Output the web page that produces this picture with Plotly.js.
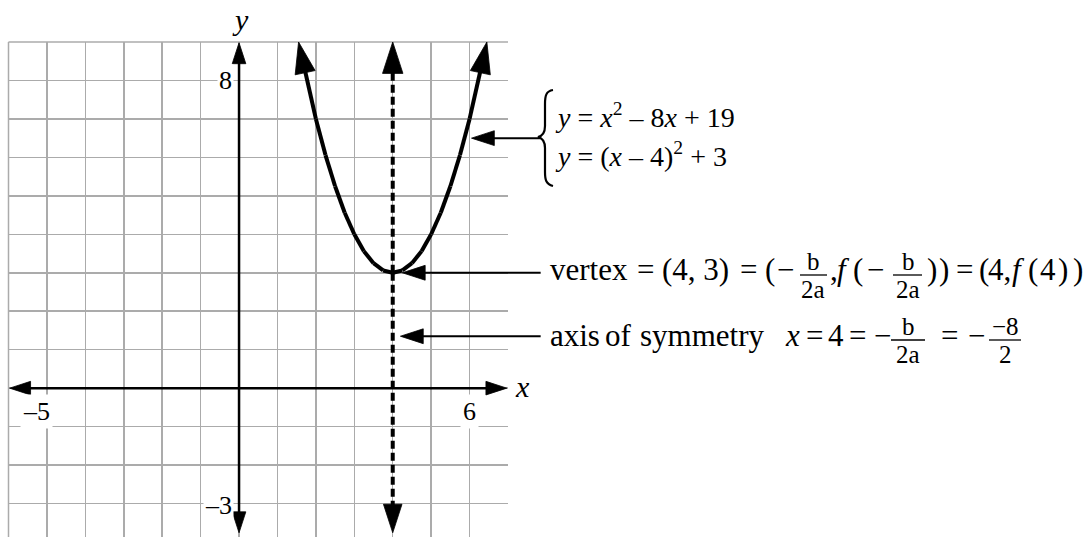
<!DOCTYPE html>
<html>
<head>
<meta charset="utf-8">
<script src="https://cdn.plot.ly/plotly-3.0.1.min.js"></script>
<style>
html,body{margin:0;padding:0;background:#fff;overflow:hidden}
#chart{width:1091px;height:537px}
</style>
</head>
<body>
<div id="chart"></div>
<script>
// ---------------- data ----------------
const parabolaX = [1.55, 1.75, 2.0, 2.25, 2.5, 2.75, 3.0, 3.25, 3.5, 3.75, 4.0,
                   4.25, 4.5, 4.75, 5.0, 5.25, 5.5, 5.75, 6.0, 6.25, 6.45];
const parabolaY = [9.0, 8.06, 7.0, 6.06, 5.25, 4.56, 4.0, 3.56, 3.25, 3.06, 3.0,
                   3.06, 3.25, 3.56, 4.0, 4.56, 5.25, 6.06, 7.0, 8.06, 9.0];
const vertexIndex = 10;                // point (4, 3)
const symmetryX = 4;
const symmetryYEnds = [9.0, -3.76];
const xAxisEnds = [-5.97, 6.97];
const yAxisEnds = [8.98, -3.76];
const xTickVals = [-5, 6];
const xTickText = ['–5', '6'];
const yTickVals = [8, -3];
const yTickText = ['8', '–3'];
const calloutTipX = [6.05, 4.25, 4.2];
const calloutTipY = [6.5, 3.0, 1.35];
const calloutTailX = 7.85;
const xRange = [-6, 7];
const yRange = [-3.87, 9];

// ---------------- geometry / style ----------------
const W = 1091, H = 537;
const PL = 8.5, PR = 508, PT = 42;
const FONT = 'Liberation Serif';
const GRID = '#ababab';
const BLACK = '#000000';
const k = (xRange[1] - xRange[0]) / (PR - PL);
const x2Range = [xRange[0] - PL * k, xRange[0] + (W - PL) * k];

function arrowTrace(xs, ys, width, headSize, extra) {
  const sizes = xs.map((_, i) => (i === xs.length - 1 ? headSize : 0));
  return Object.assign({
    type: 'scatter', mode: 'lines+markers', x: xs, y: ys,
    line: {color: BLACK, width: width},
    marker: {symbol: 'arrow', angleref: 'previous', size: sizes, color: BLACK,
             opacity: 1, line: {color: BLACK, width: 0.8}},
    opacity: 1, cliponaxis: false, hoverinfo: 'skip', showlegend: false
  }, extra || {});
}

const traces = [];
traces.push(arrowTrace([0, xAxisEnds[1]], [0, 0], 2.5, 22));
traces.push(arrowTrace([0, xAxisEnds[0]], [0, 0], 2.5, 22));
traces.push(arrowTrace([0, 0], [0, yAxisEnds[0]], 2.5, 22));
traces.push(arrowTrace([0, 0], [0, yAxisEnds[1]], 2.5, 22));
const vY = parabolaY[vertexIndex];
const dUp = arrowTrace([symmetryX, symmetryX], [vY, symmetryYEnds[0]], 4, 33);
const dDn = arrowTrace([symmetryX, symmetryX], [vY, symmetryYEnds[1]], 4, 30);
dUp.line.dash = '8px,4px';
dDn.line.dash = '8px,4px';
traces.push(dUp, dDn);
const leftX = parabolaX.slice(0, vertexIndex + 1).reverse();
const leftY = parabolaY.slice(0, vertexIndex + 1).reverse();
const rightX = parabolaX.slice(vertexIndex);
const rightY = parabolaY.slice(vertexIndex);
traces.push(arrowTrace(leftX, leftY, 4, 33), arrowTrace(rightX, rightY, 4, 33));
for (let i = 0; i < calloutTipX.length; i++) {
  traces.push(arrowTrace([calloutTailX, calloutTipX[i]], [calloutTipY[i], calloutTipY[i]], 2, 24,
    {xaxis: 'x2', yaxis: 'y2'}));
}

// ---------------- text ----------------
const ann = [];
function T(text, xpx, ypx, size, xanchor) {
  ann.push({xref: 'paper', yref: 'paper', x: xpx / W, y: 1 - ypx / H,
    xanchor: xanchor || 'left', yanchor: 'middle', text: text, showarrow: false,
    borderpad: 0, font: {family: FONT, size: size, color: BLACK}});
}
const shapes = [];
function hline(x0, x1, ypx, color, width) {
  shapes.push({type: 'line', xref: 'paper', yref: 'paper', x0: x0 / W, x1: x1 / W,
    y0: 1 - ypx / H, y1: 1 - ypx / H, line: {color: color, width: width}});
}
const FS = 25;
function frac(num, den, cx, x0, x1, barY) {
  T(num, cx, barY - 14, FS, 'center');
  T(den, cx, barY + 14.5, FS, 'center');
  hline(x0, x1, barY, BLACK, 1.3);
}
// grid frame edges (left and top)
hline(PL, PR, PT, GRID, 1.5);
shapes.push({type: 'line', xref: 'paper', yref: 'paper', x0: PL / W, x1: PL / W,
  y0: 0, y1: 1 - PT / H, line: {color: GRID, width: 1.5}, layer: 'below'});
shapes[0].layer = 'below';

const MS = 31;
const vRowY = 269;
[['vertex', 549], ['=', 636], ['(4, 3)', 661], ['=', 739], ['(', 764], ['−', 776],
 [',', 829], ['<i>f</i>', 836], ['(', 852], ['−', 866], [')', 926], [')', 938],
 ['=', 955], ['(', 978], ['4,', 987], ['<i>f</i>', 1011], ['(', 1027], ['4', 1039],
 [')', 1057], [')', 1072]].forEach(c => T(c[0], c[1], vRowY, MS));
frac('b', '2a', 813, 800, 827, 275);
frac('b', '2a', 908, 893, 922, 275);

const aRowY = 335;
[['axis', 549], ['of', 604], ['symmetry', 639], ['<i>x</i>', 784], ['=', 805], ['4', 827],
 ['=', 848], ['−', 873], ['=', 940], ['−', 967]].forEach(c => T(c[0], c[1], aRowY, MS));
frac('b', '2a', 908, 891, 925, 340);
frac('−8', '2', 1005, 989, 1021, 340);

T('<i>y</i> = <i>x</i><sup>2</sup> – 8<i>x</i> + 19', 554, 115, 28);
T('<i>y</i> = (<i>x</i> – 4)<sup>2</sup> + 3', 554, 155, 28);

function P(x, y) { return (x / W).toFixed(5) + ',' + (1 - y / H).toFixed(5); }
const bracePath = 'M' + P(553, 90) + ' C' + P(546, 91) + ' ' + P(545, 96) + ' ' + P(545, 104) +
  ' L' + P(545, 126) + ' C' + P(545, 133) + ' ' + P(542, 136) + ' ' + P(538, 137) +
  ' C' + P(542, 138) + ' ' + P(545, 141) + ' ' + P(545, 148) +
  ' L' + P(545, 172) + ' C' + P(545, 180) + ' ' + P(546, 184) + ' ' + P(553, 186);
shapes.push({type: 'path', xref: 'paper', yref: 'paper', path: bracePath,
  line: {color: BLACK, width: 2.2}});

T('<i>x</i>', 522, 386, 30, 'center');
T('<i>y</i>', 240, 20, 30, 'center');

xTickVals.forEach((v, i) => ann.push({xref: 'x', yref: 'y', x: v, y: 0, text: xTickText[i],
  xanchor: v < 0 ? 'right' : 'center', xshift: v < 0 ? 6 : 0, yanchor: 'top', yshift: -6,
  showarrow: false, bgcolor: '#ffffff', borderpad: 2, font: {family: FONT, size: 26, color: BLACK}}));
yTickVals.forEach((v, i) => ann.push({xref: 'x', yref: 'y', x: 0, y: v, text: yTickText[i],
  xanchor: 'right', xshift: -5, yanchor: 'middle', yshift: v < 0 ? -2 : 0,
  showarrow: false, bgcolor: '#ffffff', borderpad: 1, font: {family: FONT, size: 26, color: BLACK}}));

const layout = {
  width: W, height: H,
  margin: {l: 0, r: 0, t: 0, b: 0, pad: 0},
  paper_bgcolor: '#ffffff', plot_bgcolor: 'rgba(0,0,0,0)',
  showlegend: false,
  font: {family: FONT, color: BLACK},
  xaxis: {domain: [PL / W, PR / W], range: xRange, dtick: 1, tick0: 0, showgrid: true,
    gridcolor: GRID, gridwidth: 1.5, zeroline: false, showticklabels: false, ticks: '',
    showline: false, fixedrange: true, anchor: 'y'},
  yaxis: {domain: [0, 1 - PT / H], range: yRange, dtick: 1, tick0: 0, showgrid: true,
    gridcolor: GRID, gridwidth: 1.5, zeroline: false, showticklabels: false, ticks: '',
    showline: false, fixedrange: true, anchor: 'x'},
  xaxis2: {domain: [0, 1], range: x2Range, visible: false, anchor: 'y2', fixedrange: true},
  yaxis2: {domain: [0, 1 - PT / H], range: yRange, visible: false, anchor: 'x2', fixedrange: true},
  annotations: ann,
  shapes: shapes
};

Plotly.newPlot('chart', traces, layout, {displayModeBar: false, staticPlot: true});
</script>
</body>
</html>
